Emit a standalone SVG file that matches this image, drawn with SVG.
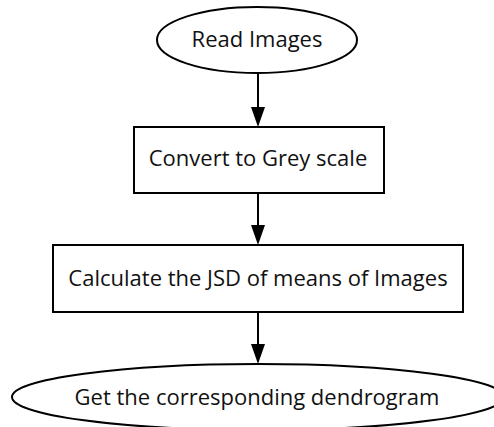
<svg xmlns="http://www.w3.org/2000/svg" width="494" height="427" viewBox="0 0 494 427">
  <style>
    .shape { fill: #ffffff; stroke: #000000; stroke-width: 2; }
    .label { font-family: "Open Sans", "Noto Sans", sans-serif; font-size: 22px; fill: #111111; text-anchor: middle; }
    .edge { stroke: #000000; stroke-width: 2; fill: none; }
    .head { fill: #000000; stroke: none; }
  </style>
  <rect width="494" height="427" fill="#ffffff"/>

  <g id="edges">
    <line class="edge" x1="258" y1="73" x2="258" y2="110"/>
    <polygon class="head" points="251,107 265,107 258,127"/>
    <line class="edge" x1="258" y1="193" x2="258" y2="228"/>
    <polygon class="head" points="251,225 265,225 258,245"/>
    <line class="edge" x1="258" y1="312" x2="258" y2="347"/>
    <polygon class="head" points="251,344 265,344 258,364"/>
  </g>

  <g id="read-images">
    <ellipse class="shape" cx="257" cy="40" rx="100" ry="33"/>
    <text class="label" x="257" y="47">Read Images</text>
  </g>

  <g id="grey-scale">
    <rect class="shape" x="134" y="127" width="250" height="66"/>
    <text class="label" x="258" y="166">Convert to Grey scale</text>
  </g>

  <g id="jsd">
    <rect class="shape" x="53" y="245" width="410" height="67"/>
    <text class="label" x="258" y="286">Calculate the JSD of means of Images</text>
  </g>

  <g id="dendrogram">
    <ellipse class="shape" cx="258" cy="397" rx="246" ry="33"/>
    <text class="label" x="257" y="405">Get the corresponding dendrogram</text>
  </g>
</svg>
